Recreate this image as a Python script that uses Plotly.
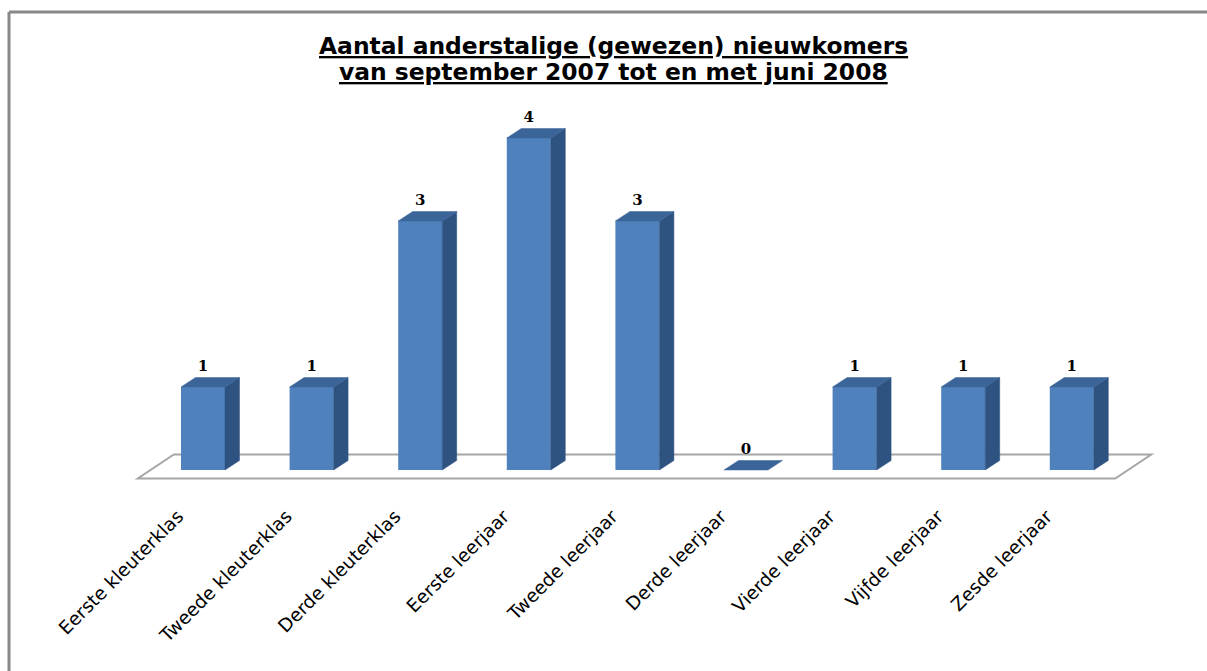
import plotly.graph_objects as go

categories = ["Eerste kleuterklas", "Tweede kleuterklas", "Derde kleuterklas",
              "Eerste leerjaar", "Tweede leerjaar", "Derde leerjaar",
              "Vierde leerjaar", "Vijfde leerjaar", "Zesde leerjaar"]
values = [1, 1, 3, 4, 3, 0, 1, 1, 1]
title_lines = ["Aantal anderstalige (gewezen) nieuwkomers",
               "van september 2007 tot en met juni 2008"]

W, H = 1207, 671
PLOT_H = 488           # plot area height in px (margin bottom = H - PLOT_H)
X0_PX, X_SCALE = 203.0, 108.6
Y0_PX, Y_SCALE = 470.0, 83.0

xr = [-X0_PX / X_SCALE, (W - X0_PX) / X_SCALE]
yr = [-(PLOT_H - Y0_PX) / Y_SCALE, Y0_PX / Y_SCALE]

BW = 44 / X_SCALE            # bar front width
BDX = 14.5 / X_SCALE         # bar depth (x)
BDY = 9.5 / Y_SCALE          # bar depth (y)
LABEL_SHIFT = 25 / X_SCALE   # rotated tick labels end left of bar centre

FRONT = "#4F81BD"
TOP = "#3B6599"
SIDE = "#2E5381"

xs = list(range(len(categories)))

fig = go.Figure()

# floor (parallelogram) drawn beneath all traces
fl, fr = -0.6, 8.4
fy = -8.5 / Y_SCALE
fdx, fdy = 36 / X_SCALE, 24 / Y_SCALE
fig.add_shape(type="path", xref="x", yref="y", layer="below",
              path=(f"M {fl},{fy} L {fr},{fy} L {fr + fdx},{fy + fdy} "
                    f"L {fl + fdx},{fy + fdy} Z"),
              fillcolor="white", line=dict(color="#A6A6A6", width=2))

# side faces and top faces
sx, sy = [], []
tx, ty = [], []
for x, v in zip(xs, values):
    r = x + BW / 2
    l = x - BW / 2
    if v > 0:
        sx += [r, r + BDX, r + BDX, r, r, None]
        sy += [0, BDY, v + BDY, v, 0, None]
    tx += [l, r, r + BDX, l + BDX, l, None]
    ty += [v, v, v + BDY, v + BDY, v, None]

fig.add_trace(go.Bar(x=xs, y=values, width=BW, marker=dict(color=FRONT, line=dict(width=0)),
                     showlegend=False))

fig.add_trace(go.Scatter(x=sx, y=sy, mode="lines", fill="toself",
                         fillcolor=SIDE, line=dict(color=SIDE, width=0.5),
                         hoverinfo="skip", showlegend=False))

fig.add_trace(go.Scatter(x=tx, y=ty, mode="lines", fill="toself",
                         fillcolor=TOP, line=dict(color=TOP, width=0.5),
                         hoverinfo="skip", showlegend=False))

# data labels
fig.add_trace(go.Scatter(
    x=xs, y=[v + BDY + 3 / Y_SCALE for v in values], mode="text",
    text=[str(v) for v in values], textposition="top center",
    textfont=dict(family="DejaVu Serif", size=15, color="black", weight="bold"),
    hoverinfo="skip", showlegend=False))

# title
for i, line in enumerate(title_lines):
    fig.add_annotation(
        text=f"<b><u>{line}</u></b>", xref="paper", yref="paper",
        x=613 / W, y=(PLOT_H - (46 + 26 * i)) / PLOT_H,
        xanchor="center", yanchor="middle", showarrow=False,
        font=dict(family="DejaVu Sans", size=23.4, color="black"))

# frame
fx = 9 / W
ftop = (PLOT_H - 12) / PLOT_H
fbot = (PLOT_H - H) / PLOT_H
fig.add_shape(type="line", xref="paper", yref="paper", x0=fx, x1=fx, y0=fbot, y1=ftop,
              line=dict(color="#888888", width=3))
fig.add_shape(type="line", xref="paper", yref="paper", x0=fx, x1=1.0, y0=ftop, y1=ftop,
              line=dict(color="#888888", width=3))

fig.update_layout(
    width=W, height=H,
    margin=dict(l=0, r=0, t=0, b=H - PLOT_H),
    paper_bgcolor="white", plot_bgcolor="rgba(0,0,0,0)",
    xaxis=dict(range=xr, tickvals=[x - LABEL_SHIFT for x in xs], ticktext=categories,
               tickangle=-45, ticklabelstandoff=13,
               showgrid=False, zeroline=False, showline=False, ticks="",
               tickfont=dict(family="DejaVu Sans", size=18.5, color="black"),
               fixedrange=True),
    yaxis=dict(range=yr, visible=False, fixedrange=True),
)

fig.write_html("out.html", config={"displayModeBar": False})
